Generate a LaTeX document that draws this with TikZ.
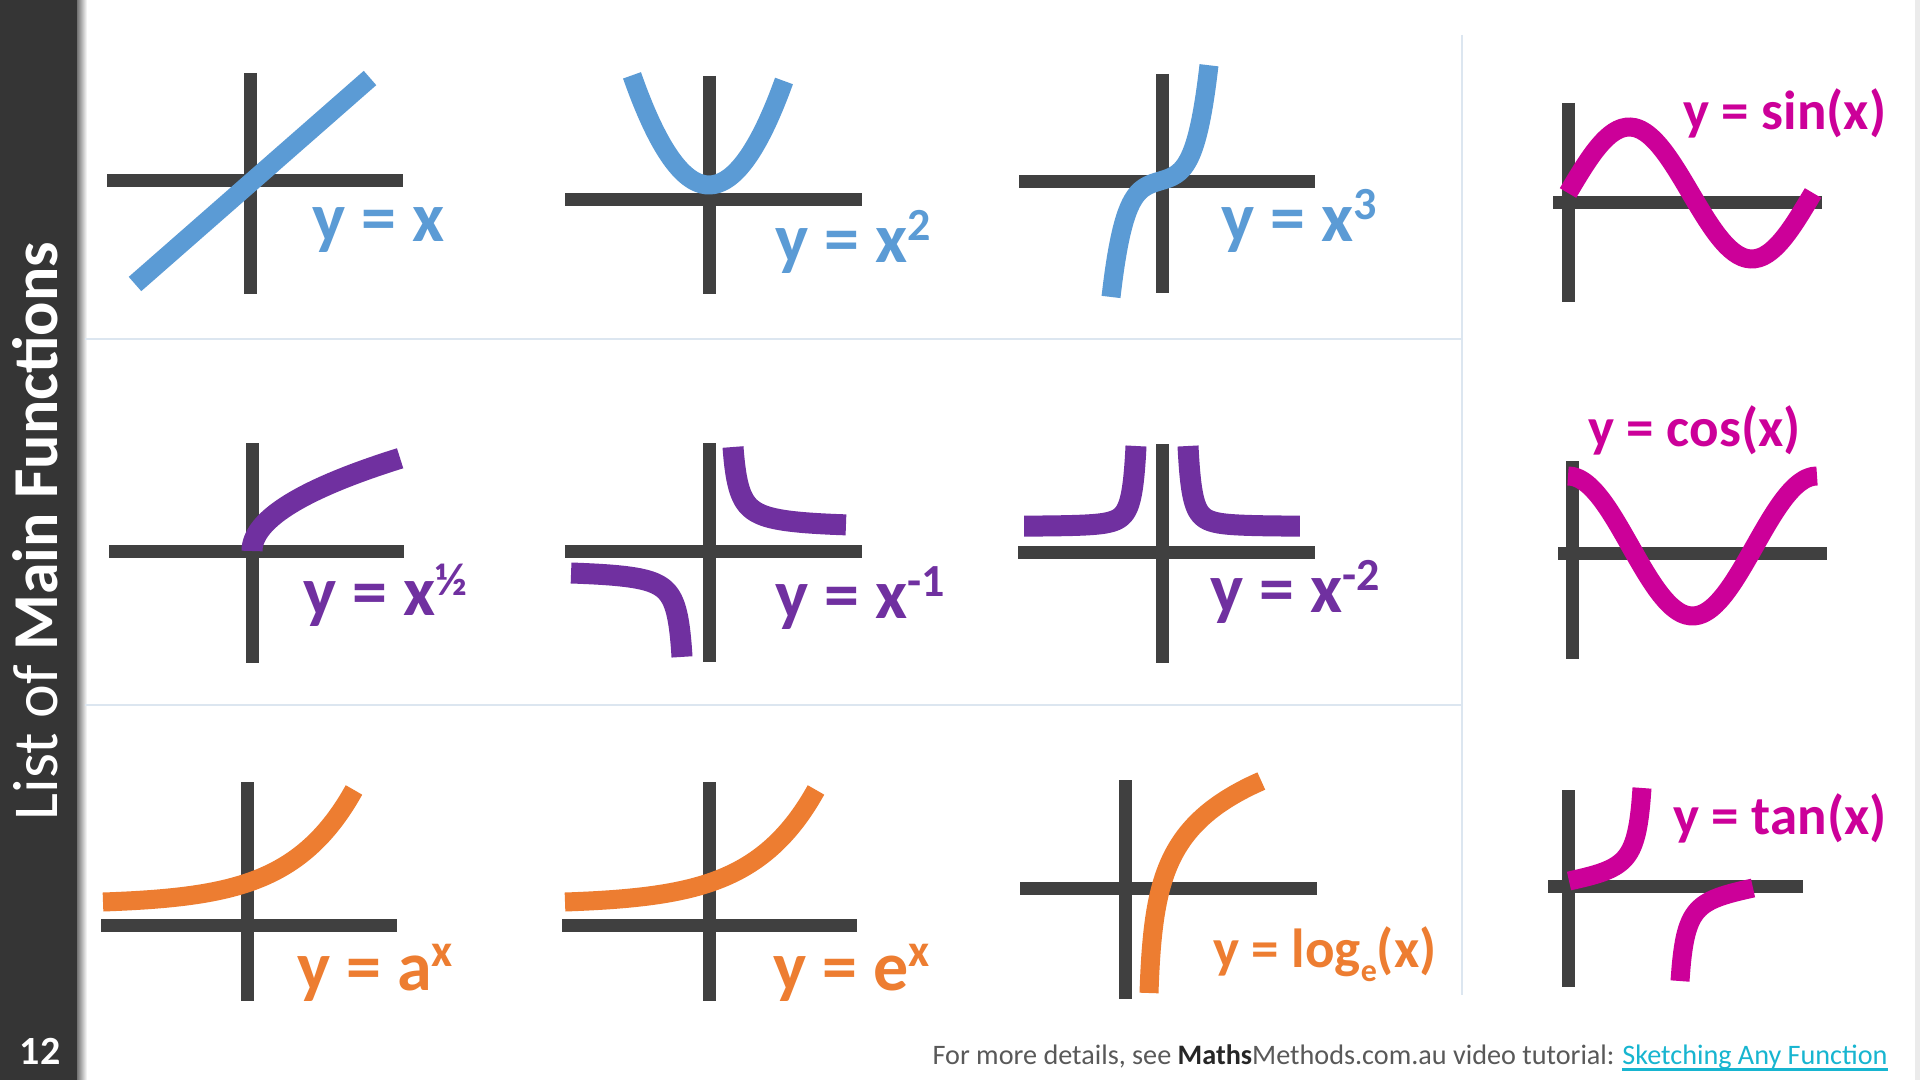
\documentclass[tikz,border=0pt]{standalone}
\usepackage{fontspec}
\setmainfont{Carlito}
\definecolor{axc}{HTML}{404040}
\definecolor{bluc}{HTML}{5B9BD5}
\definecolor{purc}{HTML}{7030A0}
\definecolor{orac}{HTML}{ED7D31}
\definecolor{magc}{HTML}{CC0099}
\definecolor{divc}{HTML}{DCE6F0}
\definecolor{sidec}{HTML}{353535}
\definecolor{linkc}{HTML}{17B5D0}
\definecolor{footc}{HTML}{595959}
\definecolor{mathc}{HTML}{262626}
\newcommand\supr[2][11pt]{\raisebox{#1}{\fontsize{23}{23}\selectfont #2}}
\begin{document}
\begin{tikzpicture}[x=0.5pt,y=-0.5pt,
  axis/.style={draw=axc,line width=6.5pt},
  crv/.style={line width=9.5pt},
  lbl/.style={anchor=base west,inner sep=0pt,font=\bfseries\fontsize{35}{35}\selectfont},
  slbl/.style={anchor=base west,inner sep=0pt,font=\bfseries\fontsize{27.5}{27.5}\selectfont},
  divl/.style={draw=divc,line width=1pt}]
\useasboundingbox (0,0) rectangle (1920,1080);
\fill[white] (0,0) rectangle (1920,1080);
% sidebar
\fill[sidec] (0,0) rectangle (77,1080);
\shade[left color=black!55,right color=white] (77,0) rectangle (87,1080);
\fill[black!8] (1915,0) rectangle (1920,1080);
\node[rotate=90,anchor=base,inner sep=0pt,text=white,font=\fontsize{32}{32}\selectfont] (title) at (57,531) {List of \textbf{Main Functions}};
\node[anchor=base,inner sep=0pt,text=white,font=\bfseries\fontsize{20}{20}\selectfont] (pg) at (40,1064) {12};
% dividers
\draw[divl] (85,339) -- (1462,339);
\draw[divl] (85,705) -- (1462,705);
\draw[divl] (1462,35) -- (1462,995);
% ---- row 1 ----
\draw[axis] (107,181) -- (403,181);
\draw[axis] (250,73) -- (250,294);
\draw[crv,bluc] (135,284) -- (370,78);
\node[lbl,text=bluc] (l1) at (312,242) {y = x};

\draw[axis] (565,200) -- (862,200);
\draw[axis] (709,76) -- (709,294);
\draw[crv,bluc] plot[smooth,samples=40,domain=-77:75,variable=\t] ({709+\t},{185-0.0185*\t*\t});
\node[lbl,text=bluc] (l2) at (775,263) {y = x\supr{2}};

\draw[axis] (1019,182) -- (1315,182);
\draw[axis] (1162,74) -- (1162,293);
\draw[crv,bluc] plot[smooth,samples=60,domain=-1:1,variable=\t] ({1160+49*\t},{181-(14.7*\t+47.06*\t*\t*\t+54.2*\t*\t*\t*\t*\t)});
\node[lbl,text=bluc] (l3) at (1221,242) {y = x\supr{3}};

\draw[axis] (1553,203) -- (1822,203);
\draw[axis] (1568,103) -- (1568,302);
\draw[crv,magc] plot[smooth,samples=60,domain=0:245,variable=\t] ({1568+\t},{193-66*sin(1.46939*\t)});
\node[slbl,text=magc] (l4) at (1683,130) {y = sin(x)};
% ---- row 2 ----
\draw[axis] (109,551) -- (404,551);
\draw[axis] (252,443) -- (252,663);
\draw[crv,purc,line width=10.5pt] plot[smooth,samples=40,domain=0:12.17,variable=\t] ({252+\t*\t},{551-7.62*\t});
\node[lbl,text=purc] (l5) at (303,615) {y = x\supr[10pt]{½}};

\draw[axis] (565,551) -- (862,551);
\draw[axis] (709,443) -- (709,662);
\draw[crv,purc,line width=10.5pt] plot[smooth,samples=50,domain=0:2.987,variable=\t] ({709+18+6*exp(\t)},{551-(22+82*exp(-\t))});
\draw[crv,purc,line width=10.5pt] plot[smooth,samples=50,domain=0:3.088,variable=\t] ({709-(21.7+5.3*exp(\t))},{551+(18+87.9*exp(-\t))});
\node[lbl,text=purc] (l6) at (775,618) {y = x\supr{-1}};

\draw[axis] (1018,552) -- (1315,552);
\draw[axis] (1162,444) -- (1162,663);
\draw[crv,purc,line width=10.5pt] plot[smooth,samples=50,domain=0:2.708,variable=\t] ({1162+18+8*exp(\t)},{552-(25.5+80.5*exp(-2*\t))});
\draw[crv,purc,line width=10.5pt] plot[smooth,samples=50,domain=0:2.708,variable=\t] ({1162-18-8*exp(\t)},{552-(25.5+80.5*exp(-2*\t))});
\node[lbl,text=purc] (l7) at (1210,612) {y = x\supr{-2}};

\draw[axis] (1558,553) -- (1827,553);
\draw[axis] (1572,461) -- (1572,659);
\draw[crv,magc] plot[smooth,samples=60,domain=0:249,variable=\t] ({1568+\t},{546-70*cos(1.44578*\t)});
\node[slbl,text=magc] (l8) at (1588,446) {y = cos(x)};
% ---- row 3 ----
\draw[axis] (101,925) -- (397,925);
\draw[axis] (247,782) -- (247,1001);
\draw[crv,orac] plot[smooth,samples=50,domain=0:251,variable=\t] ({103+\t},{902-2.22*(exp(0.0157*\t)-1)});
\node[lbl,text=orac] (l9) at (297,990) {y = a\supr[12pt]{x}};

\draw[axis] (562,925) -- (857,925);
\draw[axis] (709,782) -- (709,1001);
\draw[crv,orac] plot[smooth,samples=50,domain=0:251,variable=\t] ({565+\t},{902-2.22*(exp(0.0157*\t)-1)});
\node[lbl,text=orac] (l10) at (773,990) {y = e\supr[12pt]{x}};

\draw[axis] (1020,888) -- (1317,888);
\draw[axis] (1125,780) -- (1125,999);
\draw[crv,orac] plot[smooth,samples=50,domain=0:212,variable=\t] ({1149+1.64*(exp(0.02*\t)-1)},{993-\t});
\node[slbl,text=orac] (l11) at (1213,967) {y = log\raisebox{-7pt}{\fontsize{16}{16}\selectfont e}(x)};

\draw[axis] (1548,886) -- (1803,886);
\draw[axis] (1568,790) -- (1568,987);
\draw[crv,magc] plot[smooth,samples=60,domain=0:73,variable=\t] ({1569+\t},{881-11.3*tan(1.138*\t)});
\draw[crv,magc] plot[smooth,samples=60,domain=0:73,variable=\t] ({1753-\t},{888+11.3*tan(1.138*\t)});
\node[slbl,text=magc] (l12) at (1673,834) {y = tan(x)};
% footer
\node[anchor=base east,inner sep=0pt,text=linkc,font=\fontsize{14.1}{14.1}\selectfont] (lnk) at (1888,1064) {Sketching Any Function};
\node[anchor=base east,inner sep=0pt,text=footc,font=\fontsize{14.1}{14.1}\selectfont] (ft) at (lnk.base west) {For more details, see \textbf{\color{mathc}Maths}Methods.com.au video tutorial:\kern0.25em};
\draw[linkc,line width=1.5pt] ([yshift=-2.5pt]lnk.base west) -- ([yshift=-2.5pt]lnk.base east);
\end{tikzpicture}
\end{document}
